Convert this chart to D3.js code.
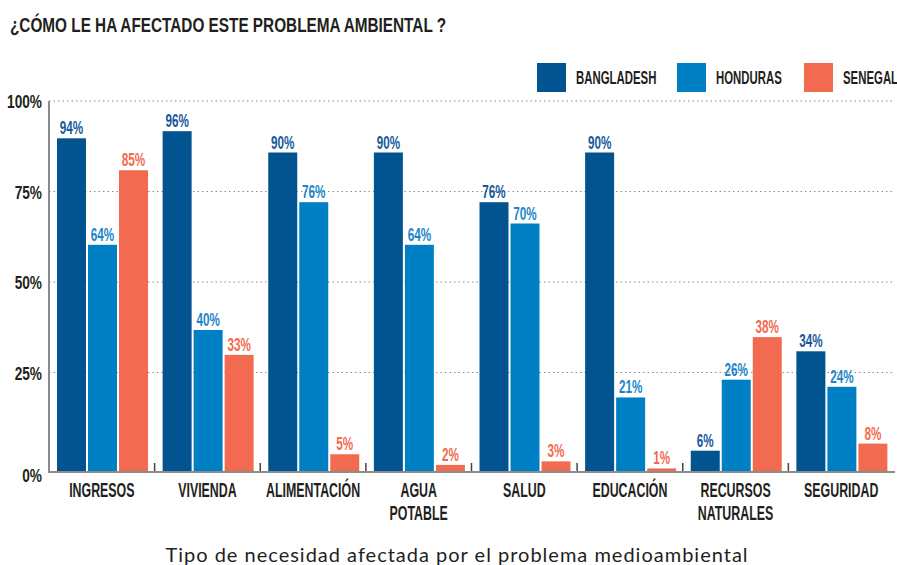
<!DOCTYPE html>
<html>
<head>
<meta charset="utf-8">
<script src="https://cdn.jsdelivr.net/npm/d3@7"></script>
<style>
  body { margin: 0; background: #fff; }
  svg { display: block; }
</style>
</head>
<body>
<script>
// data
var categories = [["INGRESOS"], ["VIVIENDA"], ["ALIMENTACIÓN"], ["AGUA", "POTABLE"], ["SALUD"],
                  ["EDUCACIÓN"], ["RECURSOS", "NATURALES"], ["SEGURIDAD"]];
var series = ["BANGLADESH", "HONDURAS", "SENEGAL"];
var bangladesh = [94, 96, 90, 90, 76, 90, 6, 34];
var honduras = [64, 40, 76, 64, 70, 21, 26, 24];
var senegal = [85, 33, 5, 2, 3, 1, 38, 8];
var yTicks = [0, 25, 50, 75, 100];

var values = [bangladesh, honduras, senegal];
var barColors = ["#01548f", "#0080c4", "#f26a50"];
var labelColors = ["#16599a", "#1a86c8", "#f26a50"];
var ink = "#231f20";
var bebas = "'Liberation Sans', Arial, sans-serif";

var width = 897, height = 565;

var svg = d3.select("body").append("svg")
  .attr("width", width)
  .attr("height", height);

// tall condensed text (poster font stand-in): squeeze horizontally
function squeeze(sel, fx, fy, sx) {
  sel.attr("x", 0).attr("y", 0)
    .attr("transform", function(d, i) {
      return "translate(" + fx(d, i) + "," + fy(d, i) + ") scale(" + sx + ",1)";
    });
  return sel;
}

var x0 = d3.scaleBand().domain(d3.range(categories.length)).range([49, 894]);
var x1 = d3.scaleBand().domain(series).range([8, 99]).paddingInner(0.065);
var yBar = d3.scaleLinear().domain([0, 100]).range([472, 117]);
var yGrid = d3.scaleLinear().domain([0, 100]).range([463, 101]);

// title
squeeze(svg.append("text").datum(0), function() { return 10; }, function() { return 32; }, 0.73)
  .text("¿CÓMO LE HA AFECTADO ESTE PROBLEMA AMBIENTAL ?")
  .attr("font-family", bebas).attr("font-weight", "bold")
  .attr("font-size", 21).attr("fill", ink);

// legend
var legendX = [537, 677, 804];
var leg = svg.append("g").selectAll("g").data(series).enter().append("g");
leg.append("rect")
  .attr("x", function(d, i) { return legendX[i]; })
  .attr("y", 63).attr("width", 29).attr("height", 29)
  .attr("fill", function(d, i) { return barColors[i]; });
squeeze(leg.append("text"), function(d, i) { return legendX[i] + 39; }, function() { return 84; }, 0.6)
  .text(function(d) { return d; })
  .attr("font-family", bebas).attr("font-weight", "bold")
  .attr("font-size", 19).attr("fill", ink);

// grid lines
svg.append("g").selectAll("line").data(yTicks.filter(function(t) { return t > 0; })).enter()
  .append("line")
  .attr("x1", 49).attr("x2", 895)
  .attr("y1", function(d) { return yGrid(d); })
  .attr("y2", function(d) { return yGrid(d); })
  .attr("stroke", "#8c8c8c").attr("stroke-width", 1.2)
  .attr("stroke-dasharray", "1.5,3");

// y tick labels
squeeze(svg.append("g").selectAll("text").data(yTicks).enter().append("text"),
  function() { return 42; },
  function(d) { return d === 0 ? yBar(0) + 10 : yGrid(d) + 7; }, 0.72)
  .attr("text-anchor", "end")
  .text(function(d) { return d + "%"; })
  .attr("font-family", bebas).attr("font-weight", "bold")
  .attr("font-size", 19).attr("fill", ink);

// bars
var groups = svg.append("g").selectAll("g").data(categories).enter().append("g")
  .attr("transform", function(d, i) { return "translate(" + x0(i) + ",0)"; });

groups.selectAll("rect")
  .data(function(d, i) { return series.map(function(s, k) { return { s: s, k: k, v: values[k][i] }; }); })
  .enter().append("rect")
  .attr("x", function(d) { return x1(d.s); })
  .attr("width", x1.bandwidth())
  .attr("y", function(d) { return yBar(d.v); })
  .attr("height", function(d) { return yBar(0) - yBar(d.v); })
  .attr("fill", function(d) { return barColors[d.k]; });

squeeze(groups.selectAll("text.val")
  .data(function(d, i) { return series.map(function(s, k) { return { s: s, k: k, v: values[k][i] }; }); })
  .enter().append("text").attr("class", "val"),
  function(d) { return x1(d.s) + x1.bandwidth() / 2; },
  function(d) { return yBar(d.v) - 4; }, 0.65)
  .attr("text-anchor", "middle")
  .text(function(d) { return d.v + "%"; })
  .attr("font-family", bebas).attr("font-weight", "bold")
  .attr("font-size", 18)
  .attr("fill", function(d) { return labelColors[d.k]; });

// axes lines
svg.append("line").attr("x1", 49).attr("x2", 49).attr("y1", 101).attr("y2", 473)
  .attr("stroke", "#8c8c8c").attr("stroke-width", 2);
svg.append("line").attr("x1", 48).attr("x2", 895).attr("y1", 472).attr("y2", 472)
  .attr("stroke", "#8c8c8c").attr("stroke-width", 2);

// group separator ticks
svg.append("g").selectAll("line").data(d3.range(1, categories.length)).enter()
  .append("line")
  .attr("x1", function(d) { return x0(d); }).attr("x2", function(d) { return x0(d); })
  .attr("y1", 463).attr("y2", 471)
  .attr("stroke", "#444").attr("stroke-width", 1.5);

// category labels
groups.each(function(lines) {
  var g = d3.select(this);
  squeeze(g.selectAll("text.cat").data(lines).enter().append("text").attr("class", "cat"),
    function() { return x0.bandwidth() / 2; },
    function(d, j) { return 497 + j * 23; }, 0.59)
    .attr("text-anchor", "middle")
    .text(function(d) { return d; })
    .attr("font-family", bebas).attr("font-weight", "bold")
    .attr("font-size", 21).attr("fill", ink);
});

// x axis title
svg.append("text")
  .attr("x", 457).attr("y", 562)
  .attr("text-anchor", "middle")
  .attr("font-family", "Lato, 'Noto Sans', sans-serif")
  .attr("font-size", 20).attr("letter-spacing", 1).attr("fill", ink)
  .text("Tipo de necesidad afectada por el problema medioambiental");
</script>
</body>
</html>
